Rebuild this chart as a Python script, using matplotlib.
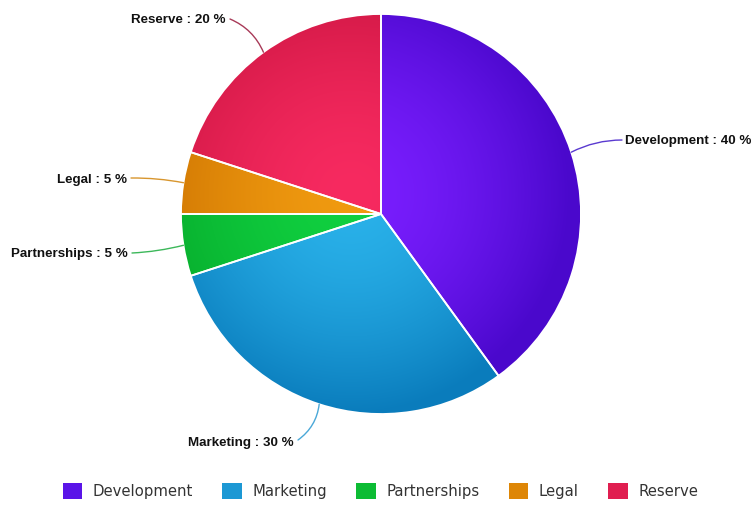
import numpy as np
import matplotlib.pyplot as plt
from matplotlib.colors import to_rgb
from matplotlib.patches import Patch, Wedge

# ======================
# Data
# ======================
labels = ["Development", "Marketing", "Partnerships", "Legal", "Reserve"]
shares = [40, 30, 5, 5, 20]

# light (centre) / dark (rim) shade per slice, and connector colour
light = ["#7a1eff", "#2ab2ea", "#10d040", "#f09a10", "#f72a60"]
dark = ["#4a08cc", "#0a7cbc", "#06a82a", "#ca7000", "#cc1642"]
line_col = ["#5a3ad0", "#4aa8d8", "#3cb85a", "#d8962e", "#a83a58"]

# label anchor and connector start (pixel coords, y from top)
label_pos = [(625, 141), (294, 443), (128, 254), (127, 180), (226, 20)]
line_start = [(622, 140), (298, 440), (132, 253), (131, 178), (230, 19)]
label_ha = ["left", "right", "right", "right", "right"]
label_rad = [0.12, 0.22, 0.05, -0.05, -0.2]

W, H = 753, 505
cx, cy, R = 381, H - 214, 200

fig = plt.figure(figsize=(W / 100, H / 100), dpi=100)
ax = fig.add_axes([0, 0, 1, 1])

wedges, _ = ax.pie(shares, center=(cx, cy), radius=R, startangle=90,
                   counterclock=False, colors=light,
                   wedgeprops=dict(edgecolor="white", linewidth=1.3))

# radial shading clipped to each wedge
n = 400
xs = np.linspace(cx - R, cx + R, n)
ys = np.linspace(cy - R, cy + R, n)
gx, gy = np.meshgrid(xs, ys)
t = (np.clip(np.hypot(gx - cx + 30, gy - cy - 20) / (R * 1.1), 0, 1) ** 1.6)[..., None]
for w, c1, c2 in zip(wedges, light, dark):
    img = np.array(to_rgb(c1)) * (1 - t) + np.array(to_rgb(c2)) * t
    im = ax.imshow(img, extent=(cx - R, cx + R, cy - R, cy + R),
                   origin="lower", zorder=w.get_zorder() + 0.1,
                   interpolation="bilinear")
    im.set_clip_path(w)

# white separators on top
for w in wedges:
    ax.add_patch(Wedge(w.center, w.r, w.theta1, w.theta2, facecolor="none",
                       edgecolor="white", linewidth=1.3, zorder=5))

# outside labels with curved connectors
for w, lab, val, pos, st, ha, rad, lc in zip(wedges, labels, shares, label_pos,
                                            line_start, label_ha, label_rad,
                                            line_col):
    ang = np.deg2rad((w.theta1 + w.theta2) / 2)
    edge = (cx + R * np.cos(ang), cy + R * np.sin(ang))
    ax.annotate("", xy=edge, xytext=(st[0], H - st[1]),
                arrowprops=dict(arrowstyle="-", color=lc, lw=1.0,
                                shrinkA=0, shrinkB=0,
                                connectionstyle=f"arc3,rad={rad}"),
                zorder=6)
    ax.text(pos[0], H - pos[1], f"{lab} : {val} %", ha=ha, va="center",
            fontsize=9.6, fontweight="bold", family="Liberation Sans",
            color="#111111", zorder=6)

ax.set_xlim(0, W)
ax.set_ylim(0, H)
ax.set_aspect("equal")
ax.axis("off")

handles = [Patch(facecolor=c, edgecolor="none") for c in
           ["#5a14e8", "#1c98d4", "#0cbc34", "#de8606", "#e01e50"]]
fig.legend(handles, labels, loc="center", bbox_to_anchor=(0.505, 0.028),
           ncol=5, frameon=False, fontsize=10.7, handlelength=1.3,
           handleheight=1.3, handletextpad=0.7, columnspacing=2.0,
           labelcolor="#333333")

fig.savefig("out.png", dpi=100)
